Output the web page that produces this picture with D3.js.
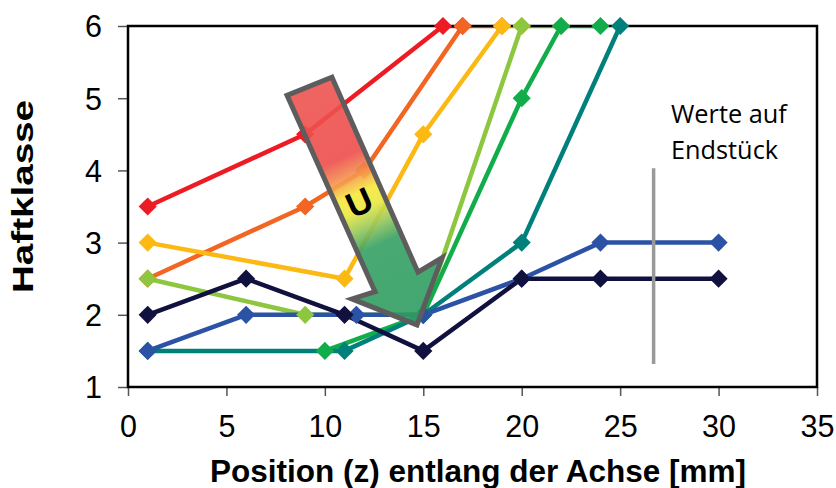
<!DOCTYPE html>
<html>
<head>
<meta charset="utf-8">
<script src="https://cdn.jsdelivr.net/npm/d3@7"></script>
<style>
  html, body { margin: 0; padding: 0; background: #fff; }
  svg { display: block; }
</style>
</head>
<body>
<svg id="chart" width="836" height="488"></svg>
<script>
// Adhesion class along the axis position, one series per sample
const seriesNames = ["S1", "S2", "S3", "S4", "S5", "S6", "S7", "S8"];
const seriesColors = ["#ed1c24", "#f26522", "#fdb913", "#8dc63f", "#12ad4b", "#00807a", "#2b52a5", "#10113f"];

const s1 = [[1, 3.5], [9, 4.5], [16, 6], [17, 6]];
const s2 = [[1, 2.5], [9, 3.5], [12, 4], [17, 6], [19, 6]];
const s3 = [[1, 3], [11, 2.5], [15, 4.5], [19, 6], [20, 6]];
const s4 = [[1, 2.5], [9, 2], [15, 2], [20, 6], [22, 6]];
const s5 = [[10, 1.5], [15, 2], [20, 5], [22, 6], [24, 6]];
const s6 = [[1, 1.5], [11, 1.5], [15, 2], [20, 3], [25, 6]];
const s7 = [[1, 1.5], [6, 2], [11.6, 2], [15, 2], [20, 2.5], [24, 3], [30, 3]];
const s8 = [[1, 2], [6, 2.5], [11, 2], [15, 1.5], [20, 2.5], [24, 2.5], [30, 2.5]];
const seriesValues = [s1, s2, s3, s4, s5, s6, s7, s8];

const xTicks = [0, 5, 10, 15, 20, 25, 30, 35];
const yTicks = [1, 2, 3, 4, 5, 6];

// Marker for the end-piece region
const endMarkX = 26.7;
const endMarkY = [1.32, 4.03];
const endLabel = ["Werte auf", "Endstück"];

// Trend arrow outline, in axis units
const arrowPts = [[8.08, 5.04], [10.36, 5.29], [14.73, 2.59], [15.95, 2.79], [14.68, 1.86], [11.38, 2.22], [12.55, 2.32]];

const svg = d3.select("#chart");
const pL = 128, pR = 817, pT = 26, pB = 387;

const x = d3.scaleLinear().domain([0, 35]).range([pL, pR]);
const y = d3.scaleLinear().domain([1, 6]).range([pB, pT]);

const font = "'Liberation Sans', Arial, sans-serif";

const defs = svg.append("defs");
defs.append("clipPath").attr("id", "plot")
  .append("rect").attr("x", pL).attr("y", pT)
  .attr("width", pR - pL).attr("height", pB - pT);

// Axes
const xAxis = svg.append("g").attr("transform", `translate(0,${pB})`)
  .call(d3.axisBottom(x).tickValues(xTicks).tickFormat(d3.format("d")).tickSize(9).tickPadding(19));
const yAxis = svg.append("g").attr("transform", `translate(${pL},0)`)
  .call(d3.axisLeft(y).tickValues(yTicks).tickFormat(d3.format("d")).tickSize(10).tickPadding(16));
[xAxis, yAxis].forEach(g => {
  g.select(".domain").remove();
  g.selectAll(".tick line").attr("stroke", "#555").attr("stroke-width", 1.5);
  g.selectAll(".tick text").attr("font-family", font).attr("font-size", 30.5).attr("fill", "#000");
});
xAxis.selectAll(".tick text").attr("dy", "0.72em");
yAxis.selectAll(".tick text").attr("dy", "0.36em");

// Series lines
const line = d3.line().x(d => x(d[0])).y(d => y(d[1]));
const linesG = svg.append("g").attr("clip-path", "url(#plot)");
seriesValues.forEach((vals, i) => {
  linesG.append("path").datum(vals)
    .attr("d", line).attr("fill", "none")
    .attr("stroke", seriesColors[i]).attr("stroke-width", 4.5)
    .attr("stroke-linejoin", "round");
});

// Plot frame
svg.append("rect").attr("x", pL).attr("y", pT)
  .attr("width", pR - pL).attr("height", pB - pT)
  .attr("fill", "none").attr("stroke", "#000").attr("stroke-width", 2.5);

// Diamond markers
const diamond = d3.symbol().type(d3.symbolSquare).size(165);
seriesValues.forEach((vals, i) => {
  svg.append("g").selectAll("path").data(vals).join("path")
    .attr("d", diamond)
    .attr("transform", d => `translate(${x(d[0])},${y(d[1])}) rotate(45)`)
    .attr("fill", seriesColors[i]);
});

// End-piece marker line and label
svg.append("line")
  .attr("x1", x(endMarkX)).attr("x2", x(endMarkX))
  .attr("y1", y(endMarkY[0])).attr("y2", y(endMarkY[1]))
  .attr("stroke", "#999").attr("stroke-width", 3.5);
const lbl = svg.append("text").attr("font-family", "'Open Sans', sans-serif")
  .attr("font-size", 25.3).attr("fill", "#000");
endLabel.forEach((t, i) => {
  lbl.append("tspan").attr("x", 671).attr("y", 123 + i * 35.5).text(t);
});

// Trend arrow with colour gradient
const p0 = [(x(arrowPts[0][0]) + x(arrowPts[1][0])) / 2, (y(arrowPts[0][1]) + y(arrowPts[1][1])) / 2];
const p1 = [x(arrowPts[4][0]), y(arrowPts[4][1])];
const grad = defs.append("linearGradient").attr("id", "arrowGrad")
  .attr("gradientUnits", "userSpaceOnUse")
  .attr("x1", p0[0]).attr("y1", p0[1]).attr("x2", p1[0]).attr("y2", p1[1]);
[[0, "#ee5450"], [0.3, "#ec4d4b"], [0.38, "#f4954e"], [0.45, "#f6e93c"], [0.51, "#eae83e"],
 [0.58, "#9ac85a"], [0.66, "#35a063"], [1, "#2f9c60"]].forEach(([o, c]) => {
  grad.append("stop").attr("offset", o).attr("stop-color", c);
});
svg.append("path")
  .attr("d", d3.line().x(d => x(d[0])).y(d => y(d[1]))(arrowPts) + "Z")
  .attr("fill", "url(#arrowGrad)").attr("fill-opacity", 0.9)
  .attr("stroke", "#5d5d5d").attr("stroke-width", 5).attr("stroke-linejoin", "miter");

const ang = Math.atan2(p1[0] - p0[0], p1[1] - p0[1]) * 180 / Math.PI;
svg.append("text")
  .attr("transform", `translate(359,202) rotate(${-ang})`)
  .attr("text-anchor", "middle").attr("dy", "0.36em")
  .attr("font-family", font).attr("font-weight", "bold").attr("font-size", 35)
  .attr("fill", "#000").text("U");

// Axis titles
svg.append("text")
  .attr("x", 478).attr("y", 482)
  .attr("text-anchor", "middle")
  .attr("font-family", font).attr("font-weight", "bold").attr("font-size", 31.5)
  .attr("fill", "#000").text("Position (z) entlang der Achse [mm]");
svg.append("text")
  .attr("transform", `translate(33,196.5) rotate(-90)`)
  .attr("text-anchor", "middle")
  .attr("textLength", 193).attr("lengthAdjust", "spacingAndGlyphs")
  .attr("font-family", font).attr("font-weight", "bold").attr("font-size", 29.5)
  .attr("fill", "#000").text("Haftklasse");
</script>
</body>
</html>
